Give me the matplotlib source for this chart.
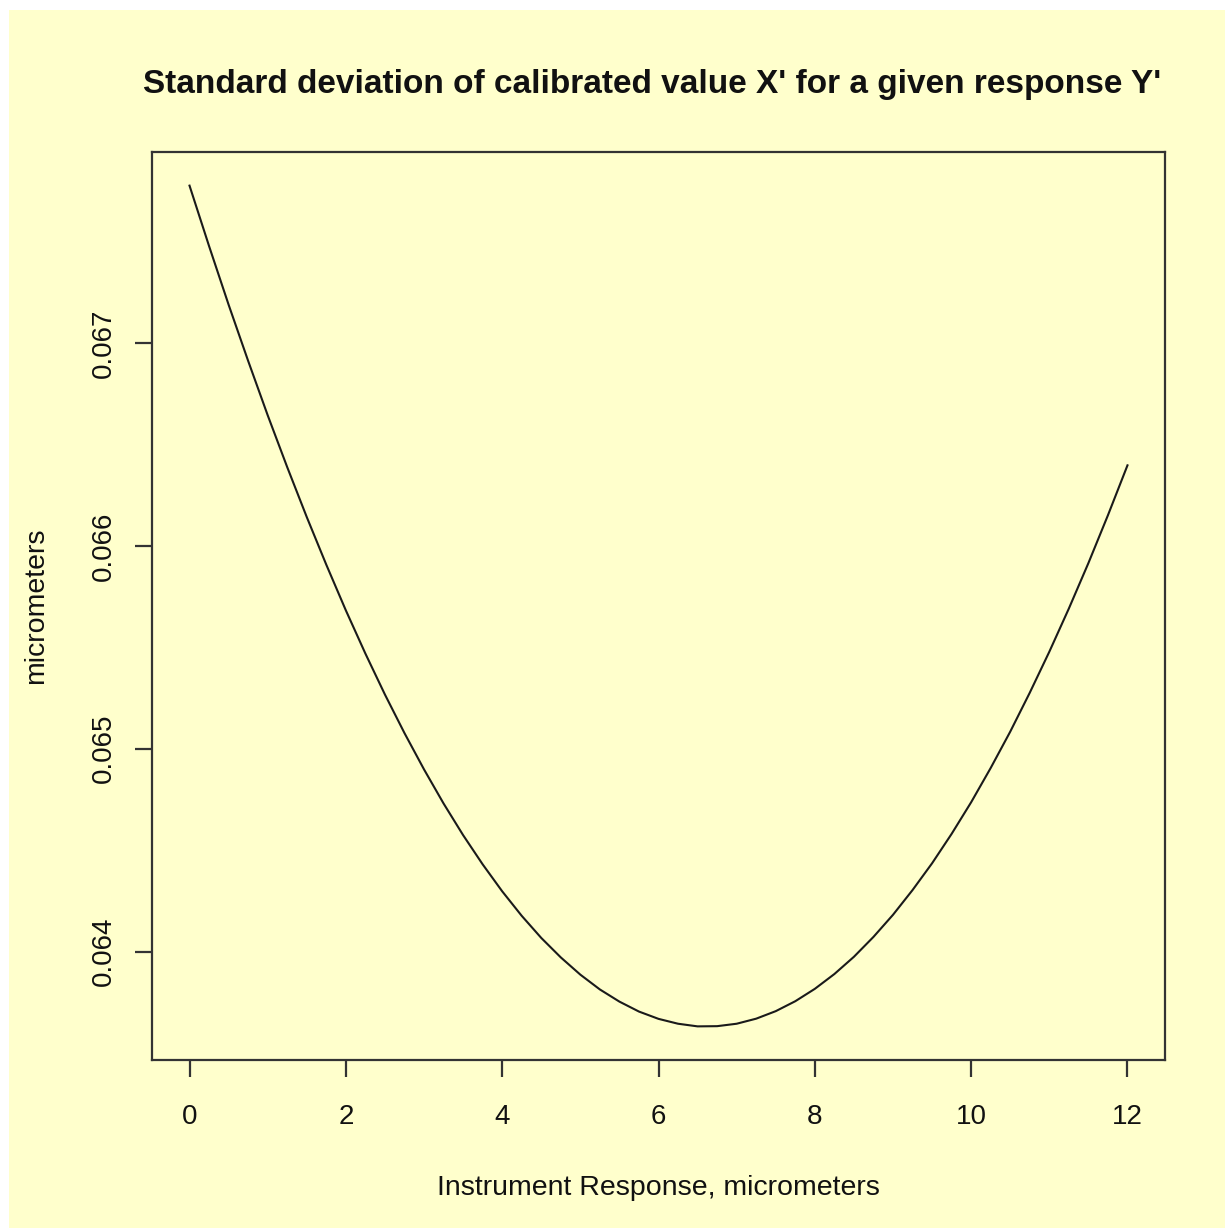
import matplotlib
matplotlib.use("Agg")
import matplotlib.pyplot as plt
from matplotlib.patches import Rectangle

# Instrument response (micrometers) and standard deviation of the calibrated value
response = [0.0, 0.25, 0.5, 0.75, 1.0, 1.25, 1.5, 1.75, 2.0, 2.25, 2.5, 2.75,
            3.0, 3.25, 3.5, 3.75, 4.0, 4.25, 4.5, 4.75, 5.0, 5.25, 5.5, 5.75,
            6.0, 6.25, 6.5, 6.75, 7.0, 7.25, 7.5, 7.75, 8.0, 8.25, 8.5, 8.75,
            9.0, 9.25, 9.5, 9.75, 10.0, 10.25, 10.5, 10.75, 11.0, 11.25, 11.5,
            11.75, 12.0]
sd_x = [0.067776, 0.067478, 0.067189, 0.066912, 0.066644, 0.066388, 0.066142,
        0.065907, 0.065682, 0.065469, 0.065267, 0.065077, 0.064898, 0.064730,
        0.064574, 0.064430, 0.064297, 0.064176, 0.064067, 0.063971, 0.063886,
        0.063813, 0.063753, 0.063704, 0.063668, 0.063644, 0.063631, 0.063632,
        0.063644, 0.063669, 0.063706, 0.063755, 0.063816, 0.063889, 0.063974,
        0.064072, 0.064181, 0.064303, 0.064435, 0.064580, 0.064736, 0.064905,
        0.065084, 0.065276, 0.065478, 0.065691, 0.065915, 0.066151, 0.066397]

x_ticks = [0, 2, 4, 6, 8, 10, 12]
y_ticks = [0.064, 0.065, 0.066, 0.067]
y_tick_labels = ["0.064", "0.065", "0.066", "0.067"]

title = "Standard deviation of calibrated value X' for a given response Y'"
x_label = "Instrument Response, micrometers"
y_label = "micrometers"

bg = "#FFFFCC"
ink = "#333333"
plt.rcParams["font.family"] = ["Liberation Sans", "DejaVu Sans"]

W, H = 1225, 1228
fig = plt.figure(figsize=(W / 100, H / 100), dpi=100, facecolor="white")
fig.patches.append(Rectangle((9 / W, 0), 1 - 9 / W, 1 - 10 / H,
                             transform=fig.transFigure, facecolor=bg,
                             edgecolor="none", zorder=-10))

left, right, top, bottom = 152, 1165, 152, 1060
ax = fig.add_axes([left / W, 1 - bottom / H, (right - left) / W, (bottom - top) / H])
ax.set_facecolor(bg)

ax.plot(response, sd_x, color="#1a1a1a", linewidth=1.5)

# R-style 4% padding around the data range
xmin, xmax = min(response), max(response)
ymin, ymax = min(sd_x), max(sd_x)
dx, dy = 0.04 * (xmax - xmin), 0.04 * (ymax - ymin)
ax.set_xlim(xmin - dx, xmax + dx)
ax.set_ylim(ymin - dy, ymax + dy)

ax.set_xticks(x_ticks)
ax.set_xticklabels([str(t) for t in x_ticks])
ax.set_yticks(y_ticks)
ax.set_yticklabels(y_tick_labels)

for sp in ax.spines.values():
    sp.set_color(ink)
    sp.set_linewidth(1.6)

ax.tick_params(axis="both", direction="out", length=12, width=1.6, color=ink,
               labelsize=20, labelcolor="#111111")
ax.tick_params(axis="x", pad=20)
ax.tick_params(axis="y", pad=13)
for lab in ax.get_yticklabels():
    lab.set_rotation(90)
    lab.set_va("center")
    lab.set_ha("right")

ax.set_xlabel(x_label, fontsize=20.5, color="#111111")
ax.xaxis.set_label_coords(0.5, -(1188 - bottom) / (bottom - top))
ax.xaxis.label.set_va("center")
ax.set_ylabel(y_label, fontsize=20.5, color="#111111")
ax.yaxis.set_label_coords((36 - left) / (right - left), 0.5)
ax.yaxis.label.set_va("center")
ax.yaxis.label.set_ha("center")

fig.text(652 / W, 1 - 85 / H, title, ha="center", va="center",
         fontsize=24, fontweight="bold", color="#111111")

fig.savefig("out.png", dpi=100, facecolor="white")
